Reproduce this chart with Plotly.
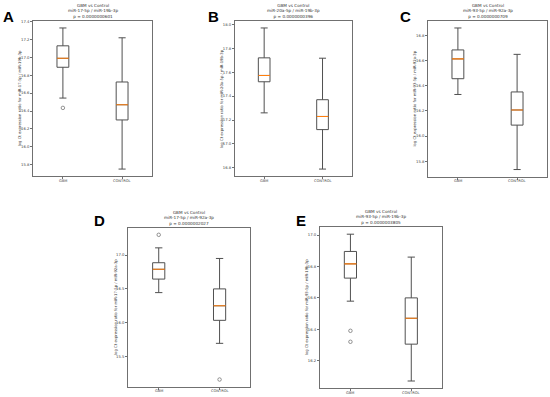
import plotly.graph_objects as go

# ---------------- data ----------------
groups = ["GBM", "CONTROL"]
panel_letters = ["A", "B", "C", "D", "E"]
ratios = ["miR-17-5p / miR-19b-3p", "miR-20a-5p / miR-19b-3p", "miR-93-5p / miR-92a-3p",
          "miR-17-5p / miR-92a-3p", "miR-93-5p / miR-19b-3p"]
p_values = ["0.0000000601", "0.0000000396", "0.0000000709", "0.0000002027", "0.0000003805"]

# per panel: [GBM, CONTROL]
lower_whisker = [[16.545, 15.75], [17.26, 16.79], [16.33, 15.735], [16.445, 15.695], [16.579, 16.07]]
q1_vals       = [[16.89, 16.30], [17.52, 17.12], [16.455, 16.087], [16.645, 16.035], [16.726, 16.305]]
median_vals   = [[16.99, 16.47], [17.573, 17.23], [16.612, 16.207], [16.79, 16.25], [16.817, 16.47]]
q3_vals       = [[17.13, 16.725], [17.72, 17.37], [16.683, 16.35], [16.887, 16.5], [16.896, 16.60]]
upper_whisker = [[17.33, 17.22], [17.97, 17.717], [16.857, 16.648], [17.107, 16.95], [17.006, 16.86]]
outliers      = [[[16.435], []], [[], []], [[], []], [[17.30], [15.16]], [[16.39, 16.32], []]]

y_ticks = [
    [15.8, 16.0, 16.2, 16.4, 16.6, 16.8, 17.0, 17.2, 17.4],
    [16.8, 17.0, 17.2, 17.4, 17.6, 17.8, 18.0],
    [15.8, 16.0, 16.2, 16.4, 16.6, 16.8],
    [15.5, 16.0, 16.5, 17.0],
    [16.2, 16.4, 16.6, 16.8, 17.0],
]

# ---------------- layout geometry (pixels) ----------------
W, H = 550, 397
frames = [  # x0, x1, y0(top), y1(bottom)
    (33.3, 151.7, 19.0, 175.0),
    (235.0, 351.7, 19.0, 175.0),
    (428.3, 546.7, 19.0, 175.5),
    (128.3, 250.0, 226.7, 386.7),
    (320.0, 441.7, 226.0, 388.3),
]
letter_pos = [(3, 9), (208, 9.5), (400, 9), (94, 214.5), (295, 214.5)]

BOX_W = 0.2
positions = [1, 2]
LINE_C = "#505050"
FRAME_C = "#707070"
MED_C = "#ff7f0e"
FONT = "DejaVu Sans"

fig = go.Figure()
annotations = []
layout_axes = {}

for i in range(5):
    xa = "x" if i == 0 else f"x{i+1}"
    ya = "y" if i == 0 else f"y{i+1}"
    x0, x1, yt, yb = frames[i]
    for j, g in enumerate(groups):
        pos = positions[j]
        fig.add_trace(go.Box(
            x=[pos], q1=[q1_vals[i][j]], median=[median_vals[i][j]], q3=[q3_vals[i][j]],
            lowerfence=[lower_whisker[i][j]], upperfence=[upper_whisker[i][j]],
            width=BOX_W, whiskerwidth=0.6, boxpoints=False,
            line=dict(color=LINE_C, width=1), fillcolor="rgba(0,0,0,0)",
            xaxis=xa, yaxis=ya, showlegend=False, hoverinfo="skip"))
        fig.add_trace(go.Scatter(
            x=[pos - BOX_W / 2, pos + BOX_W / 2], y=[median_vals[i][j]] * 2,
            mode="lines", line=dict(color=MED_C, width=1.1),
            xaxis=xa, yaxis=ya, showlegend=False, hoverinfo="skip"))
        if outliers[i][j]:
            fig.add_trace(go.Scatter(
                x=[pos] * len(outliers[i][j]), y=outliers[i][j], mode="markers",
                marker=dict(symbol="circle-open", size=3.5, color="#666", line=dict(width=0.7)),
                xaxis=xa, yaxis=ya, showlegend=False, hoverinfo="skip"))
        # x tick label
        annotations.append(dict(
            text=g, x=pos, xref=xa, y=1 - (yb + 4.5) / H, yref="paper",
            xanchor="center", yanchor="middle", showarrow=False,
            font=dict(size=3.6, color="#444", family=FONT)))

    allv = [v for j in range(2) for v in [lower_whisker[i][j], upper_whisker[i][j]] + outliers[i][j]]
    lo, hi = min(allv), max(allv)
    m = 0.05 * (hi - lo)
    dom_x = [x0 / W, x1 / W]
    dom_y = [1 - yb / H, 1 - yt / H]
    axname_x = "xaxis" if i == 0 else f"xaxis{i+1}"
    axname_y = "yaxis" if i == 0 else f"yaxis{i+1}"
    layout_axes[axname_x] = dict(
        domain=dom_x, anchor=ya, range=[0.5, 2.5], tickvals=positions, showticklabels=False,
        showline=True, mirror=True, linecolor=FRAME_C, linewidth=1, ticks="outside",
        ticklen=2, tickcolor=FRAME_C,
        showgrid=False, zeroline=False, fixedrange=True)
    layout_axes[axname_y] = dict(
        domain=dom_y, anchor=xa, range=[lo - m, hi + m], tickvals=y_ticks[i], tickformat=".1f",
        showline=True, mirror=True, linecolor=FRAME_C, linewidth=1, ticks="outside",
        ticklen=2, tickcolor=FRAME_C, tickfont=dict(size=3.8, color="#444", family=FONT),
        showgrid=False, zeroline=False, fixedrange=True)

    # title
    annotations.append(dict(
        text=f"GBM vs Control<br>{ratios[i]}<br>p = {p_values[i]}",
        x=(x0 + x1) / 2 / W, y=1 - (yt - 10) / H, xref="paper", yref="paper",
        xanchor="center", yanchor="middle", showarrow=False,
        font=dict(size=4.2, color="#333", family=FONT)))
    # y-axis title
    annotations.append(dict(
        text=f"log Ct expression ratio for {ratios[i]}",
        x=(x0 - 13.5) / W, y=1 - (yt + yb) / 2 / H, xref="paper", yref="paper",
        xanchor="center", yanchor="middle", textangle=-90, showarrow=False,
        font=dict(size=3.8, color="#333", family=FONT)))
    # panel letter
    lx, ly = letter_pos[i]
    annotations.append(dict(
        text=f"<b>{panel_letters[i]}</b>", x=(lx + 5.5) / W, y=1 - (ly + 5.5) / H,
        xref="paper", yref="paper", xanchor="center", yanchor="middle", showarrow=False,
        font=dict(size=15, color="black", family="Liberation Sans")))

fig.update_layout(
    width=W, height=H, margin=dict(l=0, r=0, t=0, b=0),
    paper_bgcolor="white", plot_bgcolor="white",
    annotations=annotations, **layout_axes)

fig.write_html("out.html", config={"displayModeBar": False},
               post_script="document.body.style.margin='0';document.body.style.overflow='hidden';")
